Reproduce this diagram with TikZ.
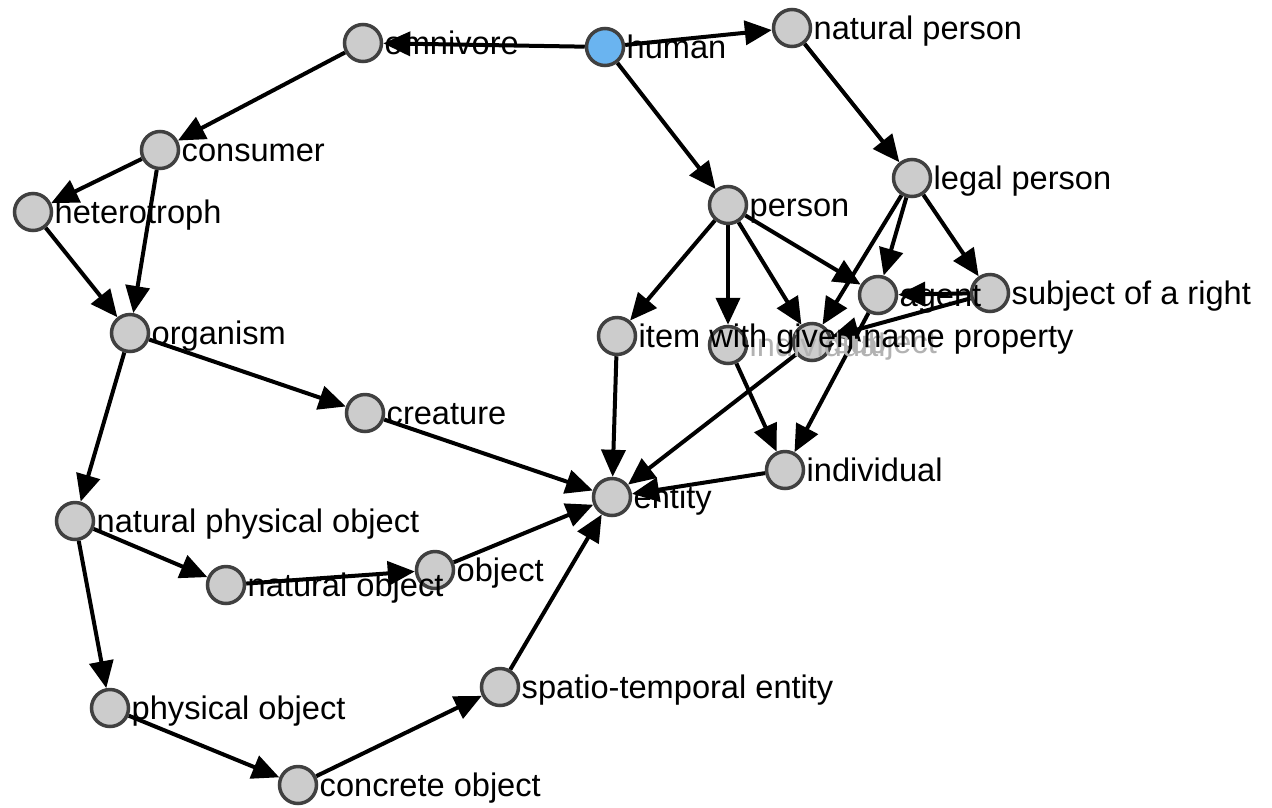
\documentclass[tikz,border=0pt]{standalone}
\usepackage{fontspec}
\setmainfont{Liberation Sans}
\usetikzlibrary{arrows.meta}
\definecolor{humanblue}{HTML}{6AB4F0}
\definecolor{rim}{HTML}{404040}
\definecolor{vfill}{HTML}{CCCCCC}
\pgfdeclarelayer{bg}
\pgfsetlayers{bg,main}
\begin{document}
\begin{tikzpicture}[x=1pt,y=-1pt,
  vtx/.style={circle,draw=rim,fill=vfill,line width=3.5pt,minimum size=37pt,inner sep=0pt},
  lbl/.style={anchor=base west,inner sep=0pt,xshift=21.5pt,yshift=-11.5pt,font=\fontsize{32.6}{36}\selectfont},
  ghost/.style={lbl,text=black!30},
  edge/.style={line width=4pt,draw=black,-{Triangle[length=27pt,width=24pt]}}]
\useasboundingbox (0,0) rectangle (1272,807);
% vertices
\node[vtx] (omnivore) at (363,43) {};
\node[vtx,fill=humanblue] (human) at (605,47) {};
\node[vtx] (naturalperson) at (792,28) {};
\node[vtx] (consumer) at (160,150) {};
\node[vtx] (heterotroph) at (33,212) {};
\node[vtx] (legalperson) at (912,178) {};
\node[vtx] (person) at (728,205) {};
\node[vtx] (agent) at (878,295) {};
\node[vtx] (subjectright) at (990,293) {};
\node[vtx] (organism) at (130,333) {};
\node[vtx] (item) at (617,336) {};
\node[vtx] (indiv2) at (728,345) {};
\node[vtx] (subject) at (812,342) {};
\node[vtx] (creature) at (365,413) {};
\node[vtx] (entity) at (612,497) {};
\node[vtx] (individual) at (785,470) {};
\node[vtx] (npo) at (75,521) {};
\node[vtx] (natobj) at (226,585) {};
\node[vtx] (object) at (435,570) {};
\node[vtx] (physobj) at (110,708) {};
\node[vtx] (ste) at (500,687) {};
\node[vtx] (concrete) at (298,785) {};
% edges
\begin{pgfonlayer}{bg}
\draw[edge] (human) -- (omnivore);
\draw[edge] (human) -- (naturalperson);
\draw[edge] (human) -- (person);
\draw[edge] (omnivore) -- (consumer);
\draw[edge] (consumer) -- (heterotroph);
\draw[edge] (consumer) -- (organism);
\draw[edge] (heterotroph) -- (organism);
\draw[edge] (naturalperson) -- (legalperson);
\draw[edge] (person) -- (item);
\draw[edge] (person) -- (indiv2);
\draw[edge] (person) -- (subject);
\draw[edge] (person) -- (agent);
\draw[edge] (legalperson) -- (subject);
\draw[edge] (legalperson) -- (agent);
\draw[edge] (legalperson) -- (subjectright);
\draw[edge] (subjectright) -- (agent);
\draw[edge] (subjectright) -- (subject);
\draw[edge] (agent) -- (individual);
\draw[edge] (indiv2) -- (individual);
\draw[edge] (subject) -- (entity);
\draw[edge] (individual) -- (entity);
\draw[edge] (item) -- (entity);
\draw[edge] (organism) -- (creature);
\draw[edge] (organism) -- (npo);
\draw[edge] (creature) -- (entity);
\draw[edge] (npo) -- (natobj);
\draw[edge] (npo) -- (physobj);
\draw[edge] (natobj) -- (object);
\draw[edge] (object) -- (entity);
\draw[edge] (physobj) -- (concrete);
\draw[edge] (concrete) -- (ste);
\draw[edge] (ste) -- (entity);
\end{pgfonlayer}
% labels
\node[ghost] (l-indiv2) at (indiv2.center) {individual};
\node[ghost] (l-subject) at (subject.center) {subject};
\node[lbl] (l-omnivore) at (omnivore.center) {omnivore};
\node[lbl] (l-human) at (human.center) {human};
\node[lbl] (l-naturalperson) at (naturalperson.center) {natural person};
\node[lbl] (l-consumer) at (consumer.center) {consumer};
\node[lbl] (l-heterotroph) at (heterotroph.center) {heterotroph};
\node[lbl] (l-legalperson) at (legalperson.center) {legal person};
\node[lbl] (l-person) at (person.center) {person};
\node[lbl] (l-agent) at (agent.center) {agent};
\node[lbl] (l-subjectright) at (subjectright.center) {subject of a right};
\node[lbl] (l-organism) at (organism.center) {organism};
\node[lbl] (l-item) at (item.center) {item with given name property};
\node[lbl] (l-creature) at (creature.center) {creature};
\node[lbl] (l-entity) at (entity.center) {entity};
\node[lbl] (l-individual) at (individual.center) {individual};
\node[lbl] (l-npo) at (npo.center) {natural physical object};
\node[lbl] (l-natobj) at (natobj.center) {natural object};
\node[lbl] (l-object) at (object.center) {object};
\node[lbl] (l-physobj) at (physobj.center) {physical object};
\node[lbl] (l-ste) at (ste.center) {spatio-temporal entity};
\node[lbl] (l-concrete) at (concrete.center) {concrete object};
\end{tikzpicture}
\end{document}
